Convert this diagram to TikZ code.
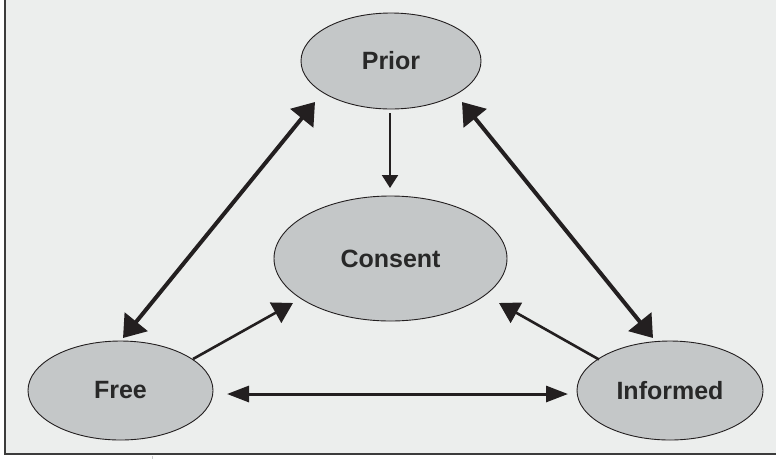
\documentclass[tikz,border=0pt]{standalone}
\usepackage{fontspec}
\setmainfont{Liberation Sans}
\usetikzlibrary{arrows.meta,calc,shapes.geometric}
\definecolor{bgc}{RGB}{236,238,237}
\definecolor{fillc}{RGB}{196,199,200}
\definecolor{inkc}{RGB}{35,31,32}
\definecolor{txtc}{RGB}{40,40,40}
\definecolor{framec}{RGB}{60,60,60}
\begin{document}
\begin{tikzpicture}[x=1pt,y=-1pt,
  oval/.style={ellipse,draw=inkc,line width=0.9pt,fill=fillc,inner sep=0pt,
    text=txtc,font=\bfseries\fontsize{25}{28}\selectfont},
  bigarrow/.style={draw=inkc,line width=4pt,{Triangle[length=21pt,width=29pt]}-{Triangle[length=21pt,width=29pt]}},
  horarrow/.style={draw=inkc,line width=3pt,{Triangle[length=22pt,width=16pt]}-{Triangle[length=22pt,width=16pt]}},
  medarrow/.style={draw=inkc,line width=2.6pt,-{Triangle[length=20pt,width=23pt]}},
  smallarrow/.style={draw=inkc,line width=2.2pt,-{Triangle[length=13pt,width=16pt]}}]
\useasboundingbox (0,0) rectangle (776,459);
\fill[white] (0,0) rectangle (776,459);
\fill[bgc] (5,0) rectangle (776,454);
\draw[framec,line width=2pt] (5,0) -- (5,454) -- (776,454);
\draw[gray!40,line width=1pt] (152,456) -- (152,459);

\node[oval,minimum width=180pt,minimum height=96pt] (prior) at (391,61) {Prior};
\node[oval,minimum width=233pt,minimum height=125pt] (consent) at (390.5,258.5) {Consent};
\node[oval,minimum width=185pt,minimum height=99pt] (free) at (120.5,390.5) {Free};
\node[oval,minimum width=186pt,minimum height=99pt] (informed) at (670,390.5) {Informed};

\draw[bigarrow] ($(free)+(2.5,-52.5)$) -- ($(prior)+(-76,41)$);
\draw[bigarrow] ($(prior)+(71,41)$) -- ($(informed)+(-17,-52.5)$);
\draw[horarrow] ($(free)+(106.5,3.5)$) -- ($(informed)+(-102,3.5)$);
\draw[medarrow] ($(free)+(72.5,-31.5)$) -- ($(consent)+(-97.5,44.5)$);
\draw[medarrow] ($(informed)+(-71,-31)$) -- ($(consent)+(108.5,44.5)$);
\draw[smallarrow] ($(prior)+(-1,52)$) -- ($(consent)+(-0.5,-70.5)$);
\end{tikzpicture}
\end{document}
